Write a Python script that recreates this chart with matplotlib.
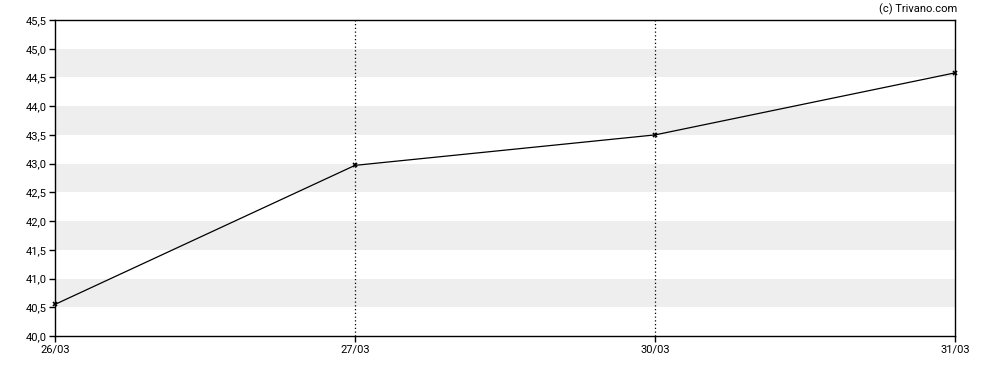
import matplotlib
matplotlib.use("Agg")
import matplotlib.pyplot as plt

dates = ["26/03", "27/03", "30/03", "31/03"]
prices = [40.55, 42.97, 43.50, 44.58]
y_ticks = [40.0, 40.5, 41.0, 41.5, 42.0, 42.5, 43.0, 43.5, 44.0, 44.5, 45.0, 45.5]

plt.rcParams['font.family'] = ['Roboto', 'DejaVu Sans']

fig = plt.figure(figsize=(9.88, 3.7), dpi=100)
ax = fig.add_axes([55 / 988, 1 - 336 / 370, 900 / 988, 316 / 370])

x = list(range(len(dates)))

# alternating grey bands
for lo in y_ticks[1:-1:2]:
    ax.axhspan(lo, lo + 0.5, color="#eeeeee", lw=0, zorder=0)

# dotted vertical lines at inner dates
for xi in x[1:-1]:
    ax.axvline(xi, color="black", lw=0.9, ls=(0, (1, 2)), zorder=1)

ax.plot(x, prices, color="black", lw=0.9, marker="x", ms=3.5, mew=1.2,
        zorder=3, clip_on=False)

ax.set_xlim(x[0], x[-1])
ax.set_ylim(y_ticks[0], y_ticks[-1])
ax.set_xticks(x)
ax.set_xticklabels(dates)
ax.set_yticks(y_ticks)
ax.set_yticklabels([f"{v:.1f}".replace(".", ",") for v in y_ticks])
ax.tick_params(direction="out", length=4, width=1, labelsize=8, pad=2, colors="black")
for s in ax.spines.values():
    s.set_linewidth(1)
    s.set_color("black")

fig.text(957 / 988, 1 - 9 / 370, "(c) Trivano.com", ha="right", va="center", fontsize=8)

fig.savefig("out.png", dpi=100)
